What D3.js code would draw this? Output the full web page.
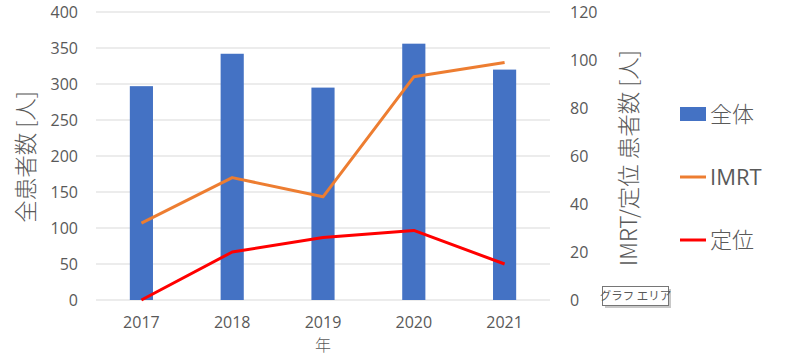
<!DOCTYPE html>
<html><head><meta charset="utf-8">
<script src="https://cdn.jsdelivr.net/npm/d3@7"></script>
<style>
body{margin:0;background:#fff;}
svg{display:block;}
text{font-family:"Open Sans","Noto Sans CJK JP",sans-serif;fill:#595959;}
</style></head>
<body><svg id="c" width="787" height="360"></svg>
<script>
const years = ["2017","2018","2019","2020","2021"];
const total = [297, 342, 295, 356, 320];
const imrt = [32, 51, 43, 93, 99];
const teii = [0, 20, 26, 29, 15];
const leftTicks = [0,50,100,150,200,250,300,350,400];
const rightTicks = [0,20,40,60,80,100,120];
const seriesNames = ["全体","IMRT","定位"];
const colors = ["#4472C4","#ED7D31","#FF0000"];

const svg = d3.select("#c");
const x = d3.scaleBand().domain(years).range([96,550]).padding(0);
const yL = d3.scaleLinear().domain([0,400]).range([300,12]);
const yR = d3.scaleLinear().domain([0,120]).range([300,12]);
const cjk = '"Noto Sans CJK JP","Open Sans",sans-serif';

// gridlines
svg.append("g").selectAll("line").data(leftTicks).join("line")
  .attr("x1",96).attr("x2",550)
  .attr("y1",d=>yL(d)).attr("y2",d=>yL(d))
  .attr("stroke","#D9D9D9").attr("stroke-width",1);

// left axis
const gl = svg.append("g").attr("transform","translate(96,0)")
  .call(d3.axisLeft(yL).tickValues(leftTicks).tickSize(0).tickPadding(18));
gl.select(".domain").remove();
gl.selectAll("text").style("font-size","16px").attr("fill","#595959").style("font-family",'"Open Sans",sans-serif');

// right axis
const gr = svg.append("g").attr("transform","translate(550,0)")
  .call(d3.axisRight(yR).tickValues(rightTicks).tickSize(0).tickPadding(20));
gr.select(".domain").remove();
gr.selectAll("text").style("font-size","16px").attr("fill","#595959").style("font-family",'"Open Sans",sans-serif');

// bars
const barW = x.bandwidth()*0.255;
svg.append("g").selectAll("rect").data(years).join("rect")
  .attr("x",(d)=>x(d)+(x.bandwidth()-barW)/2)
  .attr("width",barW)
  .attr("y",(d,i)=>yL(total[i]))
  .attr("height",(d,i)=>yL(0)-yL(total[i]))
  .attr("fill",colors[0]);

// x axis
const gx = svg.append("g").attr("transform","translate(0,300)")
  .call(d3.axisBottom(x).tickSize(0).tickPadding(17));
gx.select(".domain").remove();
gx.selectAll("text").style("font-size","16px").attr("fill","#595959").style("font-family",'"Open Sans",sans-serif');

// lines
const line = d3.line().x(d=>x(d[0])+x.bandwidth()/2).y(d=>yR(d[1]));
[[imrt,colors[1]],[teii,colors[2]]].forEach(([vals,c])=>{
  svg.append("path").datum(years.map((y,i)=>[y,vals[i]]))
    .attr("d",line).attr("fill","none").attr("stroke",c)
    .attr("stroke-width",3).attr("stroke-linejoin","round");
});

// axis titles
svg.append("text").attr("transform","translate(34,157) rotate(-90)")
  .attr("text-anchor","middle").style("font-family",cjk).style("font-size","22.5px").style("font-weight","300")
  .text("全患者数 [人]");
svg.append("text").attr("transform","translate(637,158) rotate(-90)")
  .attr("text-anchor","middle").style("font-family",cjk).style("font-size","22.5px").style("font-weight","300")
  .text("IMRT/定位 患者数 [人]");
svg.append("text").attr("x",323).attr("y",351)
  .attr("text-anchor","middle").style("font-family",cjk).style("font-size","16px").style("font-weight","300")
  .text("年");

// legend
const lg = svg.append("g");
const ly = [114,177,240];
lg.append("rect").attr("x",680).attr("y",ly[0]-7).attr("width",26).attr("height",14).attr("fill",colors[0]);
lg.append("line").attr("x1",680).attr("x2",706).attr("y1",ly[1]).attr("y2",ly[1]).attr("stroke",colors[1]).attr("stroke-width",3);
lg.append("line").attr("x1",680).attr("x2",706).attr("y1",ly[2]).attr("y2",ly[2]).attr("stroke",colors[2]).attr("stroke-width",3);
seriesNames.forEach((n,i)=>{
  lg.append("text").attr("x",710).attr("y",ly[i]).attr("dy","0.35em")
    .style("font-family", i===1 ? '"Open Sans",sans-serif' : cjk)
    .style("font-weight", i===1 ? "400" : "300")
    .style("font-size","22px").text(n);
});

// tooltip artifact
const tt = svg.append("g");
tt.append("rect").attr("x",605).attr("y",289).attr("width",66).attr("height",19).attr("fill","#C8C8C8");
tt.append("rect").attr("x",602.5).attr("y",286.5).attr("width",66).attr("height",19).attr("fill","#fff").attr("stroke","#767676");
tt.append("text").attr("x",635.5).attr("y",296).attr("dy","0.35em").attr("text-anchor","middle")
  .style("font-family",cjk).style("font-size","11.5px").attr("fill","#333").text("グラフ エリア");
</script></body></html>
